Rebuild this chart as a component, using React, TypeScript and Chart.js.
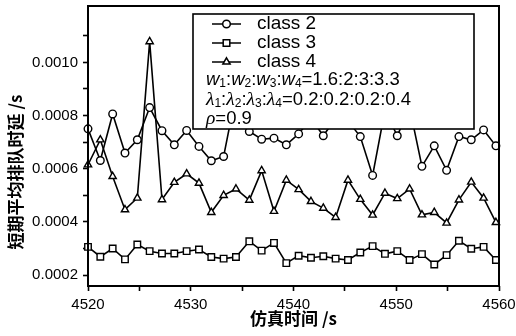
import React, { useEffect, useRef } from "react";
import { Chart, registerables } from "chart.js";

Chart.register(...registerables);

// Simulation time (s)
const TIMES = [
  4520.0, 4521.2, 4522.4, 4523.6, 4524.8, 4526.0, 4527.2, 4528.4, 4529.6, 4530.8,
  4532.0, 4533.2, 4534.4, 4535.7, 4536.9, 4538.1, 4539.3, 4540.5, 4541.7, 4542.9,
  4544.1, 4545.3, 4546.5, 4547.7, 4548.9, 4550.1, 4551.3, 4552.5, 4553.7, 4554.9,
  4556.1, 4557.3, 4558.5, 4559.7,
];

// Short-term average queueing delay (s)
const CLASS2 = [
  0.000750, 0.000631, 0.000806, 0.000659, 0.000709, 0.000830, 0.000743, 0.000690, 0.000744, 0.000684,
  0.000630, 0.000646, 0.000880, 0.000740, 0.000711, 0.000715, 0.000690, 0.000731, 0.000790, 0.000724,
  0.000790, 0.000780, 0.000721, 0.000575, 0.000820, 0.000724, 0.000830, 0.000609, 0.000686, 0.000594,
  0.000721, 0.000709, 0.000746, 0.000686,
];
const CLASS3 = [
  0.000306, 0.000269, 0.000300, 0.000259, 0.000315, 0.000290, 0.000281, 0.000281, 0.000290, 0.000296,
  0.000268, 0.000262, 0.000268, 0.000327, 0.000292, 0.000321, 0.000245, 0.000273, 0.000265, 0.000271,
  0.000262, 0.000257, 0.000285, 0.000309, 0.000280, 0.000290, 0.000257, 0.000279, 0.000240, 0.000275,
  0.000329, 0.000299, 0.000306, 0.000257,
];
const CLASS4 = [
  0.000615, 0.000709, 0.000571, 0.000446, 0.000490, 0.001078, 0.000484, 0.000549, 0.000581, 0.000546,
  0.000436, 0.000500, 0.000524, 0.000482, 0.000593, 0.000440, 0.000557, 0.000522, 0.000477, 0.000452,
  0.000417, 0.000557, 0.000485, 0.000426, 0.000508, 0.000488, 0.000524, 0.000427, 0.000436, 0.000396,
  0.000483, 0.000550, 0.000490, 0.000398,
];

const SERIES_NAMES = ["class 2", "class 3", "class 4"];
const X_TICKS = [4520, 4525, 4530, 4535, 4540, 4545, 4550, 4555, 4560];
const Y_TICKS = [0.0002, 0.0003, 0.0004, 0.0005, 0.0006, 0.0007, 0.0008, 0.0009, 0.0010, 0.0011];
const X_TITLE = "仿真时间 /s";
const Y_TITLE = "短期平均排队时延 /s";

const SANS = '"Liberation Sans", Arial, sans-serif';
const SERIF = '"Liberation Serif", "DejaVu Serif", serif';
const CJK = '"Noto Sans CJK SC", sans-serif';

function drawMarker(ctx: CanvasRenderingContext2D, style: string, x: number, y: number) {
  ctx.beginPath();
  if (style === "circle") {
    ctx.arc(x, y, 3.8, 0, Math.PI * 2);
  } else if (style === "rect") {
    ctx.rect(x - 3.3, y - 3.3, 6.6, 6.6);
  } else {
    const r = 4.2;
    ctx.moveTo(x, y - r);
    ctx.lineTo(x + r * 0.866, y + r * 0.5);
    ctx.lineTo(x - r * 0.866, y + r * 0.5);
    ctx.closePath();
  }
  ctx.fillStyle = "#fff";
  ctx.fill();
  ctx.stroke();
}

type Part = { t: string; font: string; dy?: number };
function drawRich(ctx: CanvasRenderingContext2D, x: number, y: number, parts: Part[]) {
  let cx = x;
  for (const p of parts) {
    ctx.font = p.font;
    ctx.fillText(p.t, cx, y + (p.dy || 0));
    cx += ctx.measureText(p.t).width;
  }
}

const overlay = {
  id: "overlay",
  afterDatasetsDraw(chart: any) {
    const ctx: CanvasRenderingContext2D = chart.ctx;
    const { left, right, top, bottom } = chart.chartArea;
    ctx.save();
    ctx.strokeStyle = "#000";
    ctx.fillStyle = "#000";

    // legend box
    const bx = left + 105, by = top + 8, bw = 281, bh = 115;
    ctx.fillStyle = "#fff";
    ctx.fillRect(bx, by, bw, bh);
    ctx.lineWidth = 1.6;
    ctx.strokeRect(bx, by, bw, bh);

    const styles = ["circle", "rect", "triangle"];
    const rows = [10, 29, 48];
    ctx.textBaseline = "middle";
    ctx.textAlign = "left";
    for (let i = 0; i < 3; i++) {
      const yy = by + rows[i];
      ctx.lineWidth = 1.5;
      ctx.beginPath();
      ctx.moveTo(bx + 19, yy);
      ctx.lineTo(bx + 48, yy);
      ctx.stroke();
      drawMarker(ctx, styles[i], bx + 33.5, yy);
      ctx.fillStyle = "#000";
      ctx.font = `19px ${SANS}`;
      ctx.fillText(SERIES_NAMES[i], bx + 64, yy);
    }

    ctx.fillStyle = "#000";
    const main = `18.5px ${SANS}`;
    const ital = `italic 18.5px ${SANS}`;
    const sub = `12px ${SANS}`;
    const greek = `italic 19.5px ${SERIF}`;
    const wParts: Part[] = [];
    const lParts: Part[] = [];
    for (let k = 1; k <= 4; k++) {
      wParts.push({ t: "w", font: ital }, { t: String(k), font: sub, dy: 4 });
      lParts.push({ t: "λ", font: greek }, { t: String(k), font: sub, dy: 4 });
      if (k < 4) {
        wParts.push({ t: ":", font: main });
        lParts.push({ t: ":", font: main });
      }
    }
    wParts.push({ t: "=1.6:2:3:3.3", font: main });
    lParts.push({ t: "=0.2:0.2:0.2:0.4", font: main });
    drawRich(ctx, bx + 13, by + 66, wParts);
    drawRich(ctx, bx + 13, by + 86, lParts);
    drawRich(ctx, bx + 13, by + 105, [{ t: "ρ", font: greek }, { t: "=0.9", font: main }]);

    // frame
    ctx.lineWidth = 2;
    ctx.strokeStyle = "#000";
    ctx.strokeRect(left, top, right - left, bottom - top);

    // axis titles
    ctx.fillStyle = "#000";
    ctx.font = `bold 17px ${CJK}`;
    ctx.textAlign = "center";
    ctx.textBaseline = "middle";
    ctx.fillText(X_TITLE, (left + right) / 2, 319);
    ctx.save();
    ctx.translate(16, 172);
    ctx.rotate(-Math.PI / 2);
    ctx.fillText(Y_TITLE, 0, 0);
    ctx.restore();

    ctx.restore();
  },
};

function mk(label: string, values: number[], pointStyle: string, radius: number) {
  return {
    label,
    data: TIMES.map((t, i) => ({ x: t, y: values[i] })),
    borderColor: "#000",
    backgroundColor: "#fff",
    borderWidth: 1.6,
    pointStyle,
    pointRadius: radius,
    pointBorderWidth: 1.4,
    pointBorderColor: "#000",
    pointBackgroundColor: "#fff",
    tension: 0,
    clip: 10,
  };
}

export default function App() {
  const ref = useRef<HTMLCanvasElement>(null);
  useEffect(() => {
    const chart = new Chart(ref.current as HTMLCanvasElement, {
      type: "line",
      data: {
        datasets: [
          mk(SERIES_NAMES[0], CLASS2, "circle", 3.8),
          mk(SERIES_NAMES[1], CLASS3, "rect", 4.6),
          mk(SERIES_NAMES[2], CLASS4, "triangle", 4.2),
        ] as any,
      },
      options: {
        animation: false,
        responsive: false,
        devicePixelRatio: 1,
        layout: { padding: { left: 0, right: 17, top: 6, bottom: 0 } },
        plugins: { legend: { display: false }, tooltip: { enabled: false } },
        scales: {
          x: {
            type: "linear",
            min: 4520,
            max: 4560,
            afterBuildTicks: (s: any) => {
              s.ticks = X_TICKS.map((v) => ({ value: v }));
            },
            afterFit: (s: any) => {
              s.height = 50;
              s.paddingLeft = 0;
              s.paddingRight = 0;
            },
            border: { display: false },
            grid: {
              drawOnChartArea: false,
              drawTicks: true,
              tickLength: 5,
              tickColor: "#000",
              tickWidth: 1.6,
            },
            ticks: {
              color: "#000",
              padding: 5,
              maxRotation: 0,
              autoSkip: false,
              font: { family: SANS, size: 15 },
              callback: (v: any) => (Math.round(v) % 10 === 0 ? String(Math.round(v)) : ""),
            },
          },
          y: {
            type: "linear",
            min: 0.000159,
            max: 0.001212,
            afterBuildTicks: (s: any) => {
              s.ticks = Y_TICKS.map((v) => ({ value: v }));
            },
            afterFit: (s: any) => {
              s.width = 88;
              s.paddingTop = 0;
              s.paddingBottom = 0;
            },
            border: { display: false },
            grid: {
              drawOnChartArea: false,
              drawTicks: true,
              tickLength: 5,
              tickColor: "#000",
              tickWidth: 1.6,
            },
            ticks: {
              color: "#000",
              padding: 5,
              autoSkip: false,
              font: { family: SANS, size: 15 },
              callback: (v: any) => {
                const n = Math.round(v * 1e4);
                return n % 2 === 0 ? (n / 1e4).toFixed(4) : "";
              },
            },
          },
        },
      },
      plugins: [overlay],
    });
    return () => chart.destroy();
  }, []);
  return (
    <div style={{ position: "absolute", left: 0, top: 0, width: 516, height: 336, background: "#fff" }}>
      <canvas ref={ref} width={516} height={336} />
    </div>
  );
}
